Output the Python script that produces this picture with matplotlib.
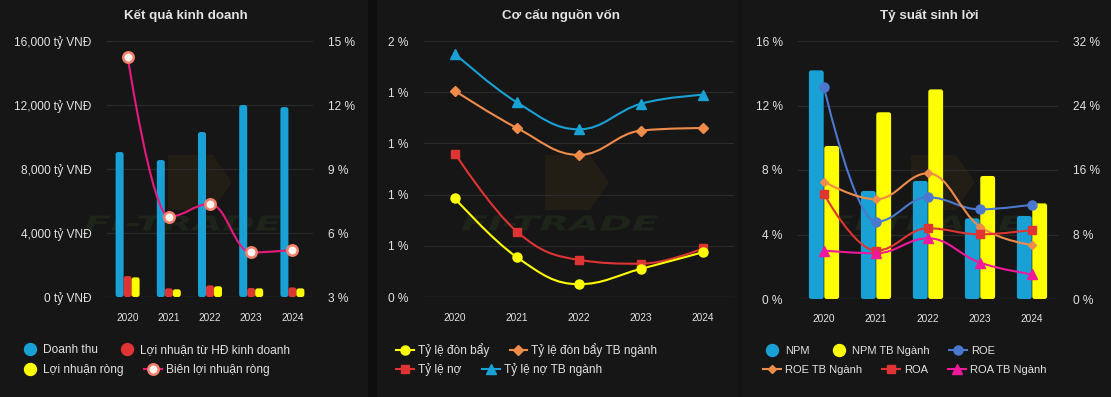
"""
Ba biểu đồ tài chính: kết quả kinh doanh, cơ cấu nguồn vốn, tỷ suất sinh lời.
Kiểu Highcharts (nền tối, đường spline).
"""

import numpy as np
import matplotlib
matplotlib.use("Agg")
import matplotlib.pyplot as plt
from matplotlib.path import Path
from matplotlib.patches import PathPatch, Polygon, FancyBboxPatch
from matplotlib.lines import Line2D
from matplotlib.textpath import TextPath
from matplotlib.font_manager import FontProperties
from matplotlib.transforms import Affine2D, IdentityTransform

plt.rcParams["font.family"] = ["Liberation Sans", "DejaVu Sans"]

# ---- Dữ liệu -------------------------------------------------------------
years = ["2020", "2021", "2022", "2023", "2024"]

# Kết quả kinh doanh (tỷ VNĐ) + biên lợi nhuận ròng (%)
doanh_thu = [9060, 8560, 10310, 12000, 11870]
ln_hdkd = [1310, 540, 730, 560, 600]
ln_rong = [1230, 480, 670, 540, 540]
bien_ln_rong = [14.27, 6.77, 7.36, 5.09, 5.20]

# Cơ cấu nguồn vốn
ty_le_don_bay = [0.77, 0.31, 0.10, 0.22, 0.35]
ty_le_don_bay_tb = [1.61, 1.32, 1.11, 1.30, 1.32]
ty_le_no = [1.12, 0.51, 0.29, 0.26, 0.38]
ty_le_no_tb = [1.90, 1.52, 1.31, 1.51, 1.58]

# Tỷ suất sinh lời (%)
npm = [14.18, 6.70, 7.32, 5.00, 5.15]
npm_tb = [9.49, 11.58, 13.00, 7.63, 5.93]
roe = [26.26, 9.59, 12.61, 11.12, 11.70]
roe_tb = [14.55, 12.36, 15.59, 8.97, 6.70]
roa = [13.02, 6.00, 8.77, 8.02, 8.56]
roa_tb = [6.00, 5.67, 7.53, 4.51, 3.06]

# Trục
p1_left_ticks = [0, 4000, 8000, 12000, 16000]
p1_right_ticks = [3, 6, 9, 12, 15]
p2_ticks = [0, 0.4, 0.8, 1.2, 1.6, 2.0]
p2_labels = ["0 %", "1 %", "1 %", "1 %", "1 %", "2 %"]
p3_left_ticks = [0, 4, 8, 12, 16]
p3_right_ticks = [0, 8, 16, 24, 32]

# ---- Kiểu ----------------------------------------------------------------
BG = "#161616"
GRID = "#2b2b2b"
TXT = "#e2e2e2"
W, H = 1111, 397

BLUE = "#19a1d5"
RED = "#df3434"
YELLOW = "#ffff00"
PINK = "#e8197d"
ORANGE = "#f08c4a"
ROE_BLUE = "#4a78cf"
ROA_PINK = "#f0189c"


def spline_path(xs, ys, smoothing=1.5):
    """Đường cong kiểu Highcharts spline (Bezier bậc 3 qua các điểm)."""
    n = len(xs)
    lc = [(xs[i], ys[i]) for i in range(n)]
    rc = [(xs[i], ys[i]) for i in range(n)]
    d = smoothing + 1
    for i in range(1, n - 1):
        px, py = xs[i], ys[i]
        lx, ly = xs[i - 1], ys[i - 1]
        nx, ny = xs[i + 1], ys[i + 1]
        lcx = (smoothing * px + lx) / d
        lcy = (smoothing * py + ly) / d
        rcx = (smoothing * px + nx) / d
        rcy = (smoothing * py + ny) / d
        if rcx != lcx:
            corr = (rcy - lcy) * (rcx - px) / (rcx - lcx) + py - rcy
            lcy += corr
            rcy += corr
            if lcy > ly and lcy > py:
                lcy = max(ly, py); rcy = 2 * py - lcy
            elif lcy < ly and lcy < py:
                lcy = min(ly, py); rcy = 2 * py - lcy
            if rcy > ny and rcy > py:
                rcy = max(ny, py); lcy = 2 * py - rcy
            elif rcy < ny and rcy < py:
                rcy = min(ny, py); lcy = 2 * py - rcy
        lc[i] = (lcx, lcy)
        rc[i] = (rcx, rcy)
    verts = [(xs[0], ys[0])]
    codes = [Path.MOVETO]
    for i in range(1, n):
        verts += [rc[i - 1], lc[i], (xs[i], ys[i])]
        codes += [Path.CURVE4] * 3
    return Path(verts, codes)


def spline(ax, ys, color, lw=1.5, **mk):
    xs = np.arange(len(ys), dtype=float)
    ax.add_patch(PathPatch(spline_path(xs, list(ys)), fill=False,
                           ec=color, lw=lw, zorder=3))
    ax.plot(xs, ys, ls="none", color=color, zorder=4, **mk)
    return Line2D([], [], color=color, lw=lw, **mk)


def round_bars(ax, bars, r_px=2.5):
    # bo góc cột kiểu Highcharts
    xl, yl = ax.get_xlim(), ax.get_ylim()
    xpp = (xl[1] - xl[0]) / ax.bbox.width
    ypp = (yl[1] - yl[0]) / ax.bbox.height
    for b in bars:
        b.set_visible(False)
        ax.add_patch(FancyBboxPatch(
            (b.get_x(), b.get_y()), b.get_width(), b.get_height(),
            boxstyle=f"round,pad=0,rounding_size={r_px * xpp}",
            mutation_aspect=ypp / xpp, fc=b.get_facecolor(), ec="none", zorder=2))


def style_axis(ax, ymin, ymax, pad_x=11.5):
    ax.set_facecolor("none")
    ax.set_xlim(-0.5, len(years) - 0.5)
    ax.set_ylim(ymin, ymax)
    ax.set_xticks(range(len(years)))
    ax.set_xticklabels(years, fontsize=7.3, color=TXT)
    ax.tick_params(axis="x", length=0, pad=pad_x)
    ax.tick_params(axis="y", length=0, pad=11, labelsize=8.6, labelcolor=TXT)
    for s in ax.spines.values():
        s.set_visible(False)
    ax.grid(axis="y", color=GRID, lw=0.8)
    ax.set_axisbelow(True)


def right_axis(ax, ticks, lo, hi):
    axr = ax.twinx()
    axr.set_ylim(lo, hi)
    axr.set_yticks(ticks)
    axr.set_yticklabels([f"{t} %" for t in ticks])
    axr.tick_params(axis="y", length=0, pad=11, labelsize=8.6, labelcolor=TXT)
    for s in axr.spines.values():
        s.set_visible(False)
    return axr


def legend_row(handles, labels, x_px, y_px, size=8.6):
    fig.legend(handles, labels, loc="center left",
               bbox_to_anchor=(x_px / W, 1 - y_px / H), ncol=len(handles),
               frameon=False, fontsize=size, labelcolor=TXT,
               handlelength=1.5 * 8.6 / size, handletextpad=0.33 * 8.6 / size,
               columnspacing=1.7 * 8.6 / size, borderpad=0, borderaxespad=0)


def dot(color):
    return Line2D([], [], ls="none", marker="o", ms=8.6, color=color)


def watermark(cx):
    # logo mờ phía sau
    pts = [(cx - 15, 155), (cx + 30, 155), (cx + 49, 182), (cx + 30, 210), (cx - 15, 210)]
    fig.add_artist(Polygon([(x / W, 1 - y / H) for x, y in pts], closed=True,
                           transform=fig.transFigure, fc="#221d15", ec="none",
                           zorder=-1))
    tp = TextPath((0, 0), "FI-TRADE", size=20,
                  prop=FontProperties(family="DejaVu Sans", weight="bold", style="italic"))
    ext = tp.get_extents()
    sx = 196 / ext.width
    sy = 15 / ext.height
    tr = Affine2D().translate(-ext.x0 - ext.width / 2, -ext.y0 - ext.height / 2) \
        .scale(sx, sy).translate(cx, H - 223)
    fig.add_artist(PathPatch(tr.transform_path(tp), transform=IdentityTransform(),
                             fc="#1d2419", ec="none", zorder=-1))


fig = plt.figure(figsize=(W / 100, H / 100), dpi=100, facecolor=BG)

# vạch chia giữa các khung
for x0, x1, c in [(368, 377, "#0e0e0e"), (738, 742, "#121212")]:
    fig.add_artist(Polygon([(x0 / W, 0), (x1 / W, 0), (x1 / W, 1), (x0 / W, 1)],
                           transform=fig.transFigure, fc=c, ec="none", zorder=-2))

for cx in (183, 560, 926):
    watermark(cx)

x = np.arange(len(years))

# ---- 1. Kết quả kinh doanh ------------------------------------------------
ax1 = fig.add_axes([107 / W, 1 - 297 / H, 206 / W, 256 / H])
style_axis(ax1, 0, 16000)
ax1.set_yticks(p1_left_ticks)
ax1.set_yticklabels([f"{t:,} tỷ VNĐ" for t in p1_left_ticks])
bw = 0.194
round_bars(ax1, ax1.bar(x - bw, doanh_thu, bw, color=BLUE))
round_bars(ax1, ax1.bar(x, ln_hdkd, bw, color=RED))
round_bars(ax1, ax1.bar(x + bw, ln_rong, bw, color=YELLOW))
ax1.axhline(0, color="#3a3a3a", lw=0.9, zorder=1)
ax1r = right_axis(ax1, p1_right_ticks, 3, 15)
h_bien = spline(ax1r, bien_ln_rong, PINK, lw=1.5, marker="o", ms=7.5,
                mfc="#fff6f2", mec="#f7806c", mew=1.8)
fig.text(186 / W, 1 - 15 / H, "Kết quả kinh doanh", ha="center", va="center",
         fontsize=9.6, fontweight="bold", color=TXT)
legend_row([dot(BLUE), dot(RED)], ["Doanh thu", "Lợi nhuận từ HĐ kinh doanh"], 21, 350)
legend_row([dot(YELLOW), h_bien], ["Lợi nhuận ròng", "Biên lợi nhuận ròng"], 21, 370)

# ---- 2. Cơ cấu nguồn vốn --------------------------------------------------
ax2 = fig.add_axes([424 / W, 1 - 297 / H, 310 / W, 256 / H])
style_axis(ax2, 0, 2.0)
ax2.set_yticks(p2_ticks)
ax2.set_yticklabels(p2_labels)
ax2.axhline(0, color="#3a3a3a", lw=0.9, zorder=1)
h_nb = spline(ax2, ty_le_no_tb, BLUE, marker="^", ms=7)
h_dbt = spline(ax2, ty_le_don_bay_tb, ORANGE, marker="D", ms=5.2)
h_no = spline(ax2, ty_le_no, RED, marker="s", ms=6)
h_db = spline(ax2, ty_le_don_bay, YELLOW, marker="o", ms=6.5)
fig.text(561 / W, 1 - 15 / H, "Cơ cấu nguồn vốn", ha="center", va="center",
         fontsize=9.6, fontweight="bold", color=TXT)
legend_row([h_db, h_dbt], ["Tỷ lệ đòn bẩy", "Tỷ lệ đòn bẩy TB ngành"], 396, 350)
legend_row([h_no, h_nb], ["Tỷ lệ nợ", "Tỷ lệ nợ TB ngành"], 396, 370)

# ---- 3. Tỷ suất sinh lời --------------------------------------------------
ax3 = fig.add_axes([798 / W, 1 - 299 / H, 260 / W, 258 / H])
style_axis(ax3, 0, 16, pad_x=10.5)
ax3.set_yticks(p3_left_ticks)
ax3.set_yticklabels([f"{t} %" for t in p3_left_ticks])
bw3 = 0.285
round_bars(ax3, ax3.bar(x - 0.148, npm, bw3, color=BLUE))
round_bars(ax3, ax3.bar(x + 0.148, npm_tb, bw3, color=YELLOW))
ax3.axhline(0, color="#3a3a3a", lw=0.9, zorder=1)
ax3r = right_axis(ax3, p3_right_ticks, 0, 32)
h_roe = spline(ax3r, roe, ROE_BLUE, marker="o", ms=6.5)
h_roet = spline(ax3r, roe_tb, ORANGE, marker="D", ms=4.2)
h_roa = spline(ax3r, roa, RED, marker="s", ms=6)
h_roat = spline(ax3r, roa_tb, ROA_PINK, marker="^", ms=6.5)
fig.text(929 / W, 1 - 15 / H, "Tỷ suất sinh lời", ha="center", va="center",
         fontsize=9.6, fontweight="bold", color=TXT)
legend_row([dot(BLUE), dot(YELLOW), h_roe], ["NPM", "NPM TB Ngành", "ROE"], 763, 351, size=8.0)
legend_row([h_roet, h_roa, h_roat], ["ROE TB Ngành", "ROA", "ROA TB Ngành"], 763, 370, size=8.0)

fig.savefig("out.png", dpi=100, facecolor=BG)
